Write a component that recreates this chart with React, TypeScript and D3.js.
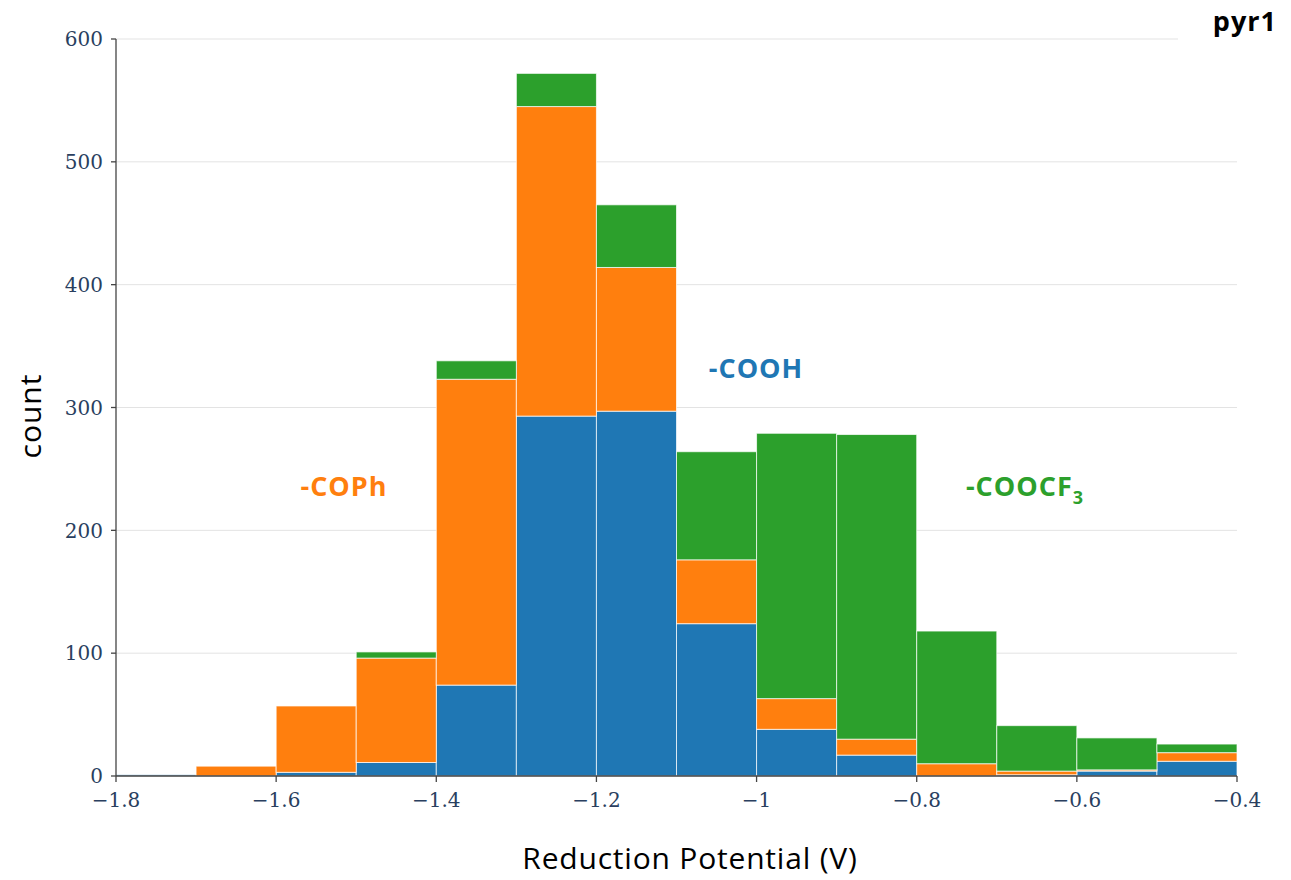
import React from "react";
import * as d3 from "d3";

// Histogram bins of reduction potential (V), width 0.1
const binStarts = [-1.8, -1.7, -1.6, -1.5, -1.4, -1.3, -1.2, -1.1, -1.0, -0.9, -0.8, -0.7, -0.6, -0.5];
const binWidth = 0.1;

// Counts per bin for each substituent group (stacked bottom to top)
const countsCOOH = [1, 0, 3, 11, 74, 293, 297, 124, 38, 17, 0, 1, 4, 12];
const countsCOPh = [0, 8, 54, 85, 249, 252, 117, 52, 25, 13, 10, 3, 1, 7];
const countsCOOCF3 = [0, 0, 0, 5, 15, 27, 51, 88, 216, 248, 108, 37, 26, 7];

const seriesKeys = ["COOH", "COPh", "COOCF3"];
const seriesColors = ["#1f77b4", "#ff7f0e", "#2ca02c"];

const xTicks = [-1.8, -1.6, -1.4, -1.2, -1, -0.8, -0.6, -0.4];
const yTicks = [0, 100, 200, 300, 400, 500, 600];

const W = 1291;
const H = 880;
const plot = { left: 116, right: 1237, top: 39, bottom: 776 };

const tickFont = "'DejaVu Serif', serif";
const labelFont = "'Open Sans', 'Noto Sans', sans-serif";
const tickColor = "#2a3f5f";

export default function App() {
  const x = d3.scaleLinear().domain([-1.8, -0.4]).range([plot.left, plot.right]);
  const y = d3.scaleLinear().domain([0, 600]).range([plot.bottom, plot.top]);

  const rows = binStarts.map((b, i) => ({
    start: b,
    COOH: countsCOOH[i],
    COPh: countsCOPh[i],
    COOCF3: countsCOOCF3[i],
  }));
  const stacked = d3.stack<any>().keys(seriesKeys)(rows);

  const fmt = (v: number) => (v < 0 ? "\u2212" + d3.format("")(Math.abs(v)) : String(v));

  return (
    <svg
      width={W}
      height={H}
      style={{ position: "absolute", left: 0, top: 0, background: "#fff" }}
    >
      <rect x={0} y={0} width={W} height={H} fill="#fff" />
      {/* horizontal grid */}
      {yTicks.map((t) => (
        <line
          key={"g" + t}
          x1={plot.left}
          x2={plot.right}
          y1={y(t)}
          y2={y(t)}
          stroke="#e3e3e3"
          strokeWidth={1}
        />
      ))}
      {/* stacked bars */}
      {stacked.map((layer, si) => (
        <g key={seriesKeys[si]} fill={seriesColors[si]}>
          {layer.map((d, i) => {
            const h = y(d[0]) - y(d[1]);
            if (h <= 0) return null;
            const x0 = x(d.data.start);
            const x1 = x(d.data.start + binWidth);
            return (
              <rect
                key={i}
                x={x0}
                y={y(d[1])}
                width={x1 - x0}
                height={h}
                stroke="#ffffff"
                strokeOpacity={0.7}
                strokeWidth={1}
              />
            );
          })}
        </g>
      ))}
      {/* title box covering grid at top right */}
      <rect x={1178} y={0} width={113} height={50} fill="#fff" />
      <text
        x={1277}
        y={31}
        textAnchor="end"
        fontFamily={labelFont}
        fontWeight="bold"
        fontSize={27}
        letterSpacing={1}
        fill="#000"
      >
        pyr1
      </text>
      {/* y axis */}
      <line x1={plot.left} x2={plot.left} y1={plot.top} y2={plot.bottom} stroke="#444" strokeWidth={1.3} />
      {yTicks.map((t) => (
        <g key={"y" + t}>
          <line x1={plot.left - 5} x2={plot.left} y1={y(t)} y2={y(t)} stroke="#444" strokeWidth={1.3} />
          <text
            x={plot.left - 13}
            y={y(t)}
            dy="0.36em"
            textAnchor="end"
            fontFamily={tickFont}
            fontSize={20}
            fill={tickColor}
          >
            {t}
          </text>
        </g>
      ))}
      {/* x axis */}
      <line x1={plot.left} x2={plot.right} y1={plot.bottom} y2={plot.bottom} stroke="#444" strokeWidth={1.3} />
      {xTicks.map((t) => (
        <g key={"x" + t}>
          <line x1={x(t)} x2={x(t)} y1={plot.bottom} y2={plot.bottom + 6} stroke="#444" strokeWidth={1.3} />
          <text
            x={x(t)}
            y={plot.bottom + 24}
            dy="0.36em"
            textAnchor="middle"
            fontFamily={tickFont}
            fontSize={20}
            fill={tickColor}
          >
            {fmt(t)}
          </text>
        </g>
      ))}
      {/* axis titles */}
      <text
        x={690}
        y={858}
        dy="0.36em"
        textAnchor="middle"
        fontFamily={labelFont}
        fontSize={30}
        letterSpacing={0.8}
        fill="#000"
      >
        Reduction Potential (V)
      </text>
      <text
        transform="translate(30,416) rotate(-90)"
        dy="0.36em"
        textAnchor="middle"
        fontFamily={labelFont}
        fontSize={30}
        letterSpacing={1}
        fill="#000"
      >
        count
      </text>
      {/* group annotations */}
      <text x={344} y={486} dy="0.36em" textAnchor="middle" fontFamily={labelFont} fontWeight="bold" fontSize={27} letterSpacing={1} fill="#ff7f0e">
        -COPh
      </text>
      <text x={756} y={368} dy="0.36em" textAnchor="middle" fontFamily={labelFont} fontWeight="bold" fontSize={27} letterSpacing={1} fill="#1f77b4">
        -COOH
      </text>
      <text x={1025} y={486} dy="0.36em" textAnchor="middle" fontFamily={labelFont} fontWeight="bold" fontSize={27} letterSpacing={1} fill="#2ca02c">
        -COOCF
        <tspan dy="8" fontSize={18}>3</tspan>
      </text>
    </svg>
  );
}
